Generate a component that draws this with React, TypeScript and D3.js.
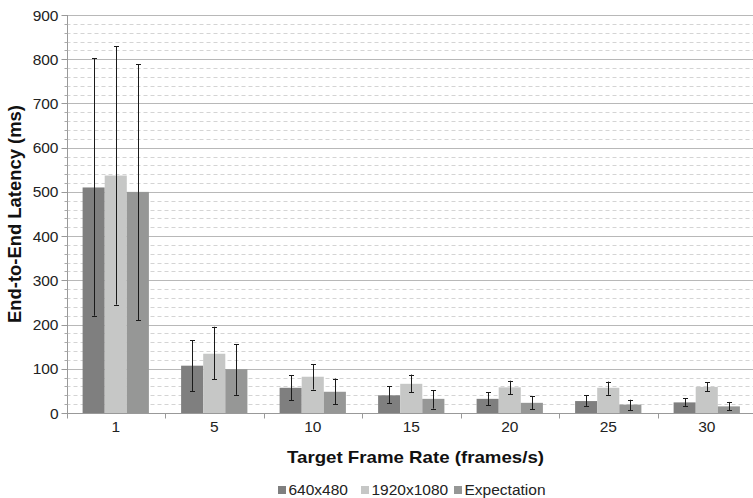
import React, { useEffect, useRef } from 'react';
import * as d3 from 'd3';

const categories = ['1', '5', '10', '15', '20', '25', '30'];
const seriesNames = ['640x480', '1920x1080', 'Expectation'];
const seriesColors = ['#7f7f7f', '#c6c7c6', '#969796'];

// mean, upper error, lower error per category
const mean640 = [510, 107, 57, 40, 32, 27, 24];
const hi640 = [802, 165, 85, 60, 47, 40, 33];
const lo640 = [220, 49, 29, 22, 17, 16, 16];

const mean1080 = [537, 134, 82, 66, 58, 57, 59];
const hi1080 = [829, 195, 110, 87, 73, 71, 69];
const lo1080 = [245, 76, 53, 47, 42, 41, 49];

const meanExp = [500, 99, 48, 32, 23, 19, 15];
const hiExp = [789, 156, 78, 51, 38, 30, 25];
const loExp = [210, 41, 20, 10, 8, 6, 6];

const yTicks = [0, 100, 200, 300, 400, 500, 600, 700, 800, 900];

interface Bar {
  cat: string;
  series: number;
  value: number;
  hi: number;
  lo: number;
}

export default function App() {
  const ref = useRef<SVGSVGElement>(null);

  useEffect(() => {
    const width = 753;
    const height = 498;
    const margin = { top: 15, bottom: 85, left: 66.5, right: -3 };

    const svg = d3.select(ref.current);
    svg.selectAll('*').remove();

    const means = [mean640, mean1080, meanExp];
    const his = [hi640, hi1080, hiExp];
    const los = [lo640, lo1080, loExp];
    const bars: Bar[] = [];
    categories.forEach((c, i) => {
      for (let s = 0; s < 3; s++) {
        bars.push({ cat: c, series: s, value: means[s][i], hi: his[s][i], lo: los[s][i] });
      }
    });

    const xScale = d3
      .scaleBand()
      .domain(categories)
      .range([margin.left, width - margin.right])
      .paddingInner(0.327)
      .paddingOuter(0.1635);

    const inner = d3
      .scaleBand<number>()
      .domain([0, 1, 2])
      .range([0, xScale.bandwidth()]);

    const yScale = d3
      .scaleLinear()
      .domain([0, 900])
      .range([height - margin.bottom, margin.top]);

    const font = 'Liberation Sans, Arial, sans-serif';

    // grid
    const minor = d3.range(0, 901, 20).filter((v) => v % 100 !== 0);
    svg
      .append('g')
      .selectAll('line')
      .data(minor)
      .enter()
      .append('line')
      .attr('x1', margin.left)
      .attr('x2', width)
      .attr('y1', (d) => Math.round(yScale(d)) + 0.5)
      .attr('y2', (d) => Math.round(yScale(d)) + 0.5)
      .attr('stroke', '#d4d4d4')
      .attr('stroke-dasharray', '4,3');

    svg
      .append('g')
      .selectAll('line')
      .data(yTicks.filter((d) => d > 0))
      .enter()
      .append('line')
      .attr('x1', margin.left)
      .attr('x2', width)
      .attr('y1', (d) => Math.round(yScale(d)) + 0.5)
      .attr('y2', (d) => Math.round(yScale(d)) + 0.5)
      .attr('stroke', '#b8b8b8');

    // bars
    svg
      .append('g')
      .selectAll('rect')
      .data(bars)
      .enter()
      .append('rect')
      .attr('x', (d) => (xScale(d.cat) as number) + (inner(d.series) as number))
      .attr('y', (d) => yScale(d.value))
      .attr('width', inner.bandwidth())
      .attr('height', (d) => yScale(0) - yScale(d.value))
      .attr('fill', (d) => seriesColors[d.series]);

    // error bars
    const err = svg.append('g').attr('stroke', '#1a1a1a').attr('stroke-width', 1);
    const cx = (d: Bar) =>
      Math.round((xScale(d.cat) as number) + (inner(d.series) as number) + inner.bandwidth() / 2) + 0.5;
    err
      .selectAll('line.v')
      .data(bars)
      .enter()
      .append('line')
      .attr('x1', cx)
      .attr('x2', cx)
      .attr('y1', (d) => yScale(d.hi))
      .attr('y2', (d) => yScale(d.lo));
    for (const key of ['hi', 'lo'] as const) {
      err
        .selectAll(`line.${key}`)
        .data(bars)
        .enter()
        .append('line')
        .attr('x1', (d) => cx(d) - 2.5)
        .attr('x2', (d) => cx(d) + 2.5)
        .attr('y1', (d) => Math.round(yScale(d[key])) + 0.5)
        .attr('y2', (d) => Math.round(yScale(d[key])) + 0.5);
    }

    // x axis
    const y0 = Math.round(yScale(0)) + 0.5;
    const xAxis = svg.append('g');
    xAxis
      .append('line')
      .attr('x1', margin.left)
      .attr('x2', width)
      .attr('y1', y0)
      .attr('y2', y0)
      .attr('stroke', '#999');
    const step = xScale.step();
    const bounds = d3.range(categories.length + 1).map((i) => margin.left + i * step);
    xAxis
      .selectAll('line.tick')
      .data(bounds)
      .enter()
      .append('line')
      .attr('x1', (d) => Math.round(d) + 0.5)
      .attr('x2', (d) => Math.round(d) + 0.5)
      .attr('y1', y0)
      .attr('y2', y0 + 5)
      .attr('stroke', '#999');
    xAxis
      .selectAll('text')
      .data(categories)
      .enter()
      .append('text')
      .attr('x', (d) => (xScale(d) as number) + xScale.bandwidth() / 2)
      .attr('y', y0 + 18.5)
      .attr('text-anchor', 'middle')
      .attr('font-family', font)
      .attr('font-size', 15.5)
      .attr('fill', '#222')
      .text((d) => d);

    // y axis
    const x0 = Math.round(margin.left) + 0.5;
    const yAxis = svg.append('g');
    yAxis
      .append('line')
      .attr('x1', x0)
      .attr('x2', x0)
      .attr('y1', yScale(900))
      .attr('y2', y0)
      .attr('stroke', '#999');
    yAxis
      .selectAll('line.minor')
      .data(minor)
      .enter()
      .append('line')
      .attr('x1', x0 - 3)
      .attr('x2', x0)
      .attr('y1', (d) => Math.round(yScale(d)) + 0.5)
      .attr('y2', (d) => Math.round(yScale(d)) + 0.5)
      .attr('stroke', '#aaa');
    yAxis
      .selectAll('line.major')
      .data(yTicks)
      .enter()
      .append('line')
      .attr('x1', x0 - 6)
      .attr('x2', x0)
      .attr('y1', (d) => Math.round(yScale(d)) + 0.5)
      .attr('y2', (d) => Math.round(yScale(d)) + 0.5)
      .attr('stroke', '#999');
    yAxis
      .selectAll('text')
      .data(yTicks)
      .enter()
      .append('text')
      .attr('x', x0 - 9)
      .attr('y', (d) => yScale(d) + 5.5)
      .attr('text-anchor', 'end')
      .attr('font-family', font)
      .attr('font-size', 15.5)
      .attr('fill', '#222')
      .text((d) => d);

    // titles
    svg
      .append('text')
      .attr('x', 287)
      .attr('y', 463)
      .attr('font-family', font)
      .attr('font-size', 17)
      .attr('font-weight', 'bold')
      .attr('textLength', 257)
      .attr('lengthAdjust', 'spacingAndGlyphs')
      .attr('fill', '#111')
      .text('Target Frame Rate (frames/s)');

    svg
      .append('text')
      .attr('transform', `translate(21, 323) rotate(-90)`)
      .attr('font-family', font)
      .attr('font-size', 19)
      .attr('font-weight', 'bold')
      .attr('textLength', 218)
      .attr('lengthAdjust', 'spacingAndGlyphs')
      .attr('fill', '#111')
      .text('End-to-End Latency (ms)');

    // legend
    const legendX = [278, 361, 454];
    const legend = svg
      .append('g')
      .selectAll('g')
      .data(seriesNames)
      .enter()
      .append('g')
      .attr('transform', (d, i) => `translate(${legendX[i]}, 486)`);
    legend
      .append('rect')
      .attr('width', 8)
      .attr('height', 8)
      .attr('y', 0)
      .attr('fill', (d, i) => seriesColors[i]);
    legend
      .append('text')
      .attr('x', 10.5)
      .attr('y', 9)
      .attr('font-family', font)
      .attr('font-size', 15.5)
      .attr('fill', '#222')
      .text((d) => d);
  }, []);

  return (
    <svg
      ref={ref}
      width={753}
      height={498}
      style={{ position: 'absolute', left: 0, top: 0, background: '#fff' }}
    />
  );
}
